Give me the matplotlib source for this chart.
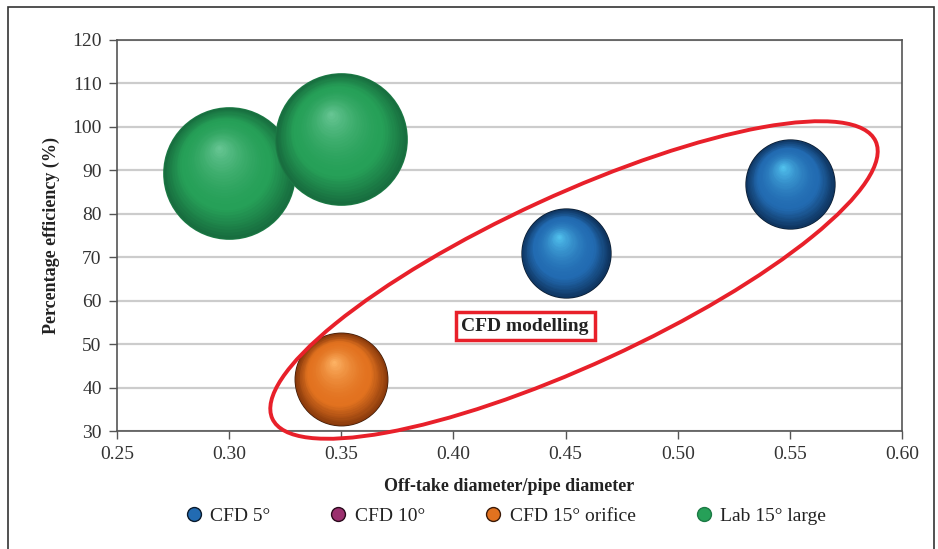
import numpy as np
import matplotlib.pyplot as plt
from matplotlib.patches import Ellipse, Rectangle
from matplotlib.transforms import offset_copy
from matplotlib.lines import Line2D
from matplotlib.colors import to_rgb

plt.rcParams['font.family'] = ['Liberation Serif', 'DejaVu Serif']

# --- data ---
series_names = ['CFD 5°', 'CFD 10°', 'CFD 15° orifice', 'Lab 15° large']

cfd5_x = [0.45, 0.55]
cfd5_y = [70.9, 86.9]
cfd5_size = [1.0, 1.0]

cfd10_x = []
cfd10_y = []
cfd10_size = []

cfd15_x = [0.35]
cfd15_y = [41.9]
cfd15_size = [1.04]

lab15_x = [0.30, 0.35]
lab15_y = [89.5, 97.3]
lab15_size = [1.47, 1.47]

x_ticks = [0.25, 0.30, 0.35, 0.40, 0.45, 0.50, 0.55, 0.60]
y_ticks = [30, 40, 50, 60, 70, 80, 90, 100, 110, 120]

# colours: (rim, body, highlight, outline)
palette = {
    'CFD 5°': ('#0f3560', '#226bb2', '#55c8f2', '#0a1a2c'),
    'CFD 10°': ('#4a1434', '#9b2f6e', '#d77fb0', '#2a0a1c'),
    'CFD 15° orifice': ('#8a3a0c', '#e2721f', '#ffb86a', '#3a1a08'),
    'Lab 15° large': ('#186e3f', '#26a058', '#6cc898', '#1c7a45'),
}

fig = plt.figure(figsize=(9.38, 5.49), dpi=100)
ax = fig.add_axes([117 / 938, 1 - 431 / 549, 785 / 938, 391 / 549])


def mix(c1, c2, t):
    a, b = np.array(to_rgb(c1)), np.array(to_rgb(c2))
    return tuple(a + (b - a) * t)


def draw_spheres(xs, ys, sizes, name):
    rim, body, light, edge = palette[name]
    n = 32
    for x, y, b in zip(xs, ys, sizes):
        R = 32.5 * b  # radius in points
        ax.scatter([x], [y], s=(2 * R) ** 2, color=edge, linewidths=0, zorder=3)
        for k in range(n):
            t = k / n
            r = R * (1 - t) * 0.985
            if t < 0.3:
                col = mix(rim, body, t / 0.3)
            else:
                col = mix(body, light, ((t - 0.3) / 0.7) ** 1.8)
            tr = offset_copy(ax.transData, fig=fig, x=-0.16 * R * t,
                             y=0.38 * R * t, units='points')
            ax.scatter([x], [y], s=(2 * r) ** 2, color=col, linewidths=0,
                       transform=tr, zorder=3)


draw_spheres(cfd5_x, cfd5_y, cfd5_size, 'CFD 5°')
draw_spheres(cfd10_x, cfd10_y, cfd10_size, 'CFD 10°')
draw_spheres(cfd15_x, cfd15_y, cfd15_size, 'CFD 15° orifice')
draw_spheres(lab15_x, lab15_y, lab15_size, 'Lab 15° large')

ax.set_xlim(0.25, 0.60)
ax.set_ylim(30, 120)
ax.set_xticks(x_ticks)
ax.set_xticklabels([f'{v:.2f}' for v in x_ticks])
ax.set_yticks(y_ticks)

ax.yaxis.grid(True, color='#cccccc', lw=1.6)
ax.set_axisbelow(True)
for sp in ax.spines.values():
    sp.set_color('#555555')
    sp.set_linewidth(1.2)
ax.tick_params(direction='out', length=5.5, width=1, color='#555555',
               labelsize=14, labelcolor='#333333')
ax.tick_params(axis='y', pad=5.5)
ax.tick_params(axis='x', pad=5)

ax.set_xlabel('Off-take diameter/pipe diameter', fontsize=13, fontweight='bold',
              color='#222222', labelpad=11)
ax.set_ylabel('Percentage efficiency (%)', fontsize=13, fontweight='bold',
              color='#222222', labelpad=9)

# annotation
ax.text(0.52, 0.2685, 'CFD modelling', transform=ax.transAxes, ha='center',
        va='center', fontsize=14, fontweight='bold', color='#222222', zorder=5,
        bbox=dict(boxstyle='square,pad=0.3', fc='white', ec='#e8202a', lw=2.5))
ell = Ellipse((5.74, 2.69), 6.64, 1.70, angle=24.7, transform=fig.dpi_scale_trans,
              fill=False, ec='#e8202a', lw=2.8, zorder=6)
fig.add_artist(ell)

# outer frame
frame = Rectangle((8 / 938, -0.02), 926 / 938, (549 - 7) / 549 + 0.02,
                  transform=fig.transFigure, fill=False, ec='#333333', lw=1.2)
fig.add_artist(frame)

handles = [Line2D([], [], marker='o', ls='', markersize=10,
                  markerfacecolor=palette[nm][1], markeredgecolor=palette[nm][3])
           for nm in series_names]
fig.legend(handles, series_names, loc='center', bbox_to_anchor=(505 / 938, 1 - 516 / 549),
           ncol=4, frameon=False, columnspacing=3.0, handlelength=1,
           handletextpad=0.35, fontsize=14, labelcolor='#222222')

fig.savefig('out.png', dpi=100)
